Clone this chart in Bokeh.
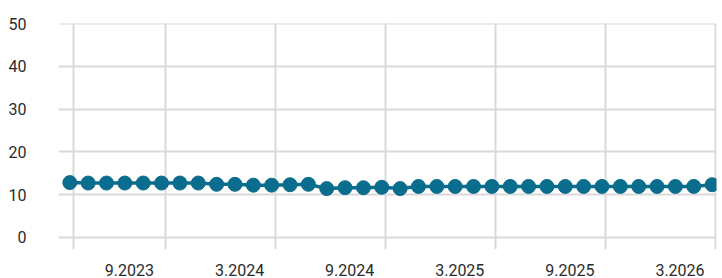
from bokeh.plotting import figure
from bokeh.models import FixedTicker, Range1d, Grid, ColumnDataSource
from bokeh.embed import file_html
from bokeh.resources import INLINE

# Monthly periods 4.2023 .. 3.2026
months = (["%d.2023" % m for m in range(4, 13)]
          + ["%d.2024" % m for m in range(1, 13)]
          + ["%d.2025" % m for m in range(1, 13)]
          + ["%d.2026" % m for m in range(1, 4)])

values = [12.8, 12.7, 12.7, 12.7, 12.7, 12.7, 12.7, 12.7,
          12.4, 12.4, 12.2, 12.2, 12.3, 12.4, 11.4, 11.6,
          11.6, 11.7, 11.4, 11.9, 11.9, 11.9, 11.9, 11.9,
          11.9, 11.9, 11.9, 11.9, 11.9, 11.9, 11.9, 11.9,
          11.9, 11.9, 11.9, 12.3]

x_tick_labels = ["9.2023", "3.2024", "9.2024", "3.2025", "9.2025", "3.2026"]
y_ticks = [0, 10, 20, 30, 40, 50]

COLOR = "#0b6d8d"
GRID = "#d9d9d9"
TEXT = "#2b2b2b"
FONT = "Roboto"

xs = list(range(len(months)))
src = ColumnDataSource(dict(x=xs, y=values, month=months))

label_idx = [months.index(l) for l in x_tick_labels]
label_pos = [i - 1.75 for i in label_idx]
grid_pos = [0.19] + [i + 0.19 for i in label_idx]

p = figure(width=722, height=278, output_backend="svg", toolbar_location=None,
           x_range=Range1d(-0.616, 35.24), y_range=Range1d(-2.87, 50.07),
           min_border_left=58, min_border_right=6, min_border_top=23,
           min_border_bottom=28)
p.outline_line_color = None
p.background_fill_color = "white"
p.border_fill_color = "white"

# grids
p.xgrid.grid_line_color = None
p.add_layout(Grid(dimension=0, ticker=FixedTicker(ticks=grid_pos),
                  grid_line_color=GRID, grid_line_width=2))
p.ygrid.ticker = FixedTicker(ticks=y_ticks)
p.ygrid.grid_line_color = GRID
p.ygrid.grid_line_width = 2

# axes
p.xaxis.ticker = FixedTicker(ticks=label_pos)
p.xaxis.major_label_overrides = {pos: lab for pos, lab in zip(label_pos, x_tick_labels)}
p.yaxis.ticker = FixedTicker(ticks=y_ticks)
for ax in (p.xaxis, p.yaxis):
    ax.axis_line_color = None
    ax.major_tick_line_color = None
    ax.minor_tick_line_color = None
    ax.major_label_text_font = FONT
    ax.major_label_text_font_size = "16px"
    ax.major_label_text_color = TEXT
p.xaxis.major_label_standoff = 8
p.yaxis.major_label_standoff = 26

p.line("x", "y", source=src, line_width=3.5, color=COLOR)
p.scatter("x", "y", source=src, size=14, color=COLOR)

open("out.html", "w").write(file_html(p, INLINE))
